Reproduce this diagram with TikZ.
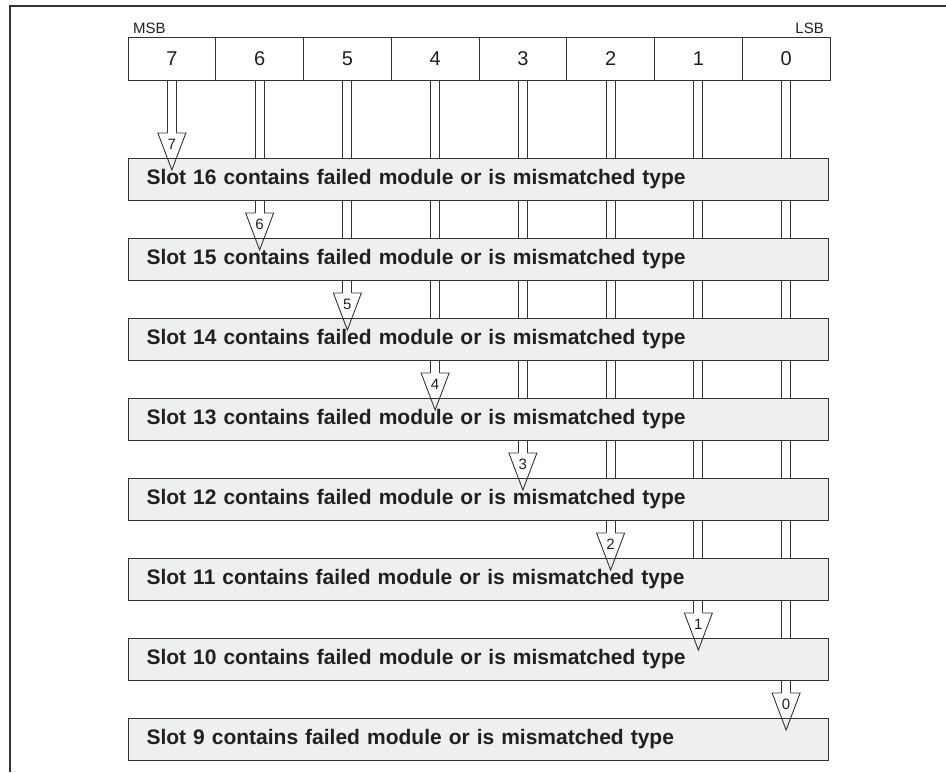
\documentclass[tikz,border=0pt]{standalone}
\usepackage{fontspec}
\setmainfont{Liberation Sans}
\usetikzlibrary{calc,backgrounds}
\definecolor{boxfill}{HTML}{EEEFF1}
\definecolor{ink}{HTML}{231F20}
\definecolor{linec}{HTML}{333333}
\tikzset{
  cellbox/.style={draw=linec, line width=1pt, minimum width=87.75pt, minimum height=43pt, inner sep=0pt, text=ink, font=\fontsize{20}{20}\selectfont},
  slotbox/.style={draw=linec, fill=boxfill, line width=1.1pt, minimum width=700pt, minimum height=42pt, text width=664pt, inner xsep=18pt, inner ysep=0pt, align=left, text=ink, font=\fontsize{21}{21}\selectfont\bfseries},
  shaft/.style={draw=linec, line width=0.9pt},
  bitlbl/.style={text=ink, inner sep=0pt, font=\fontsize{15}{15}\selectfont},
  tiplbl/.style={text=ink, inner sep=0pt, font=\fontsize{15}{15}\selectfont},
  framepen/.style={draw=linec, line width=2.3pt}
}
\begin{document}
\begin{tikzpicture}[x=1pt,y=-1pt]
\useasboundingbox (0,0) rectangle (946,772);
\draw[framepen] (10,772) -- (10,6) -- (946,6);
% register cells
\foreach \k in {7,6,5,4,3,2,1,0}
  \node[cellbox] (cell\k) at ({128+(7-\k+0.5)*87.75},58.5) {\k};
\node[bitlbl, anchor=base west] (msb) at (133,33) {MSB};
\node[bitlbl, anchor=base east] (lsb) at (824,33) {LSB};
% slot boxes
\foreach \k/\s in {7/16,6/15,5/14,4/13,3/12,2/11,1/10,0/9}{
  \node[slotbox, anchor=north west] (slot\s) at (128,{158+80*(7-\k)}) {Slot \s\ contains failed module or is mismatched type};
  \coordinate (tip\k) at ($(cell\k.south |- slot\s.north)+(0,12)$);
}
% shafts behind boxes
\begin{pgfonlayer}{background}
\foreach \k in {7,6,5,4,3,2,1,0}{
  \draw[shaft] ([xshift=-4.5pt]cell\k.south) -- ([shift={(-4.5pt,37pt)}]tip\k);
  \draw[shaft] ([xshift=4.5pt]cell\k.south) -- ([shift={(4.5pt,37pt)}]tip\k);
}
\end{pgfonlayer}
% arrow heads
\foreach \k in {7,6,5,4,3,2,1,0}{
  \draw[shaft, line join=miter] ([shift={(-4.5pt,37pt)}]tip\k) -- ([shift={(-14pt,37pt)}]tip\k) -- (tip\k) -- ([shift={(14pt,37pt)}]tip\k) -- ([shift={(4.5pt,37pt)}]tip\k);
  \node[tiplbl] (lbl\k) at ([yshift=26pt]tip\k) {\k};
}
\end{tikzpicture}
\end{document}
